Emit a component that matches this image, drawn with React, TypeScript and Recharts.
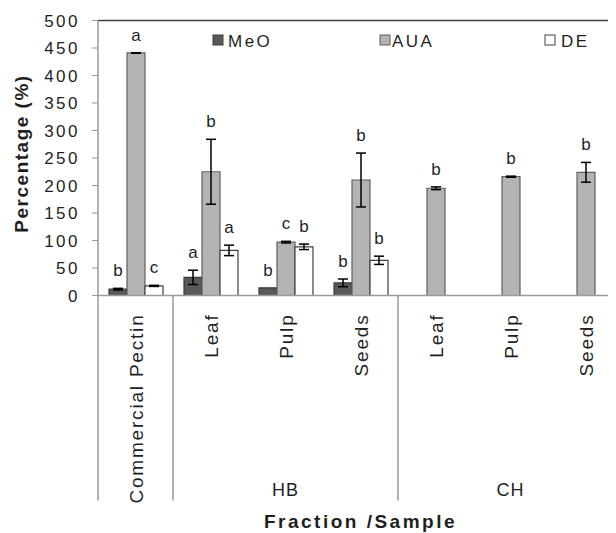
import React from "react";
import { BarChart, Bar, XAxis, YAxis, ErrorBar, LabelList, ReferenceLine } from "recharts";

const categories = ["Commercial Pectin", "Leaf", "Pulp", "Seeds", "Leaf", "Pulp", "Seeds"];
const groups = ["", "HB", "HB", "HB", "CH", "CH", "CH"];
const meo = [11.5, 33, 14, 23, null, null, null];
const meoErr = [1.5, 13, null, 7, null, null, null];
const aua = [441, 225, 97, 210, 195, 216, 224];
const auaErr = [0.5, 59, 1.5, 49, 2.5, 1, 18];
const de = [17.5, 82, 88.5, 64, null, null, null];
const deErr = [1, 9.5, 5, 7.5, null, null, null];
const meoLetters = ["b", "a", "b", "b", "", "", ""];
const auaLetters = ["a", "b", "c", "b", "b", "b", "b"];
const deLetters = ["c", "a", "b", "b", "", "", ""];
const yTicks = [0, 50, 100, 150, 200, 250, 300, 350, 400, 450, 500];

const data = categories.map((c, i) => ({
  id: String(i),
  name: c,
  meo: meo[i],
  meoErr: meoErr[i],
  aua: aua[i],
  auaErr: auaErr[i],
  de: de[i],
  deErr: deErr[i],
}));

const FONT = "'Liberation Sans', Arial, sans-serif";
const TEXT = "#1f1f1f";
const CHART_W = 650;
const CHART_H = 525;
const MARGIN = { top: 12.5, right: 35, bottom: 0, left: 0 };
const Y_W = 90;
const BAND = (CHART_W - MARGIN.right - MARGIN.left - Y_W) / categories.length;

const letterRenderer = (letters: string[], errs: (number | null)[]) => (props: any) => {
  const { x, y, width, height, value, index } = props;
  if (value == null || !letters[index]) return null;
  const err = errs[index] ?? 0;
  const errPx = value ? (err * Math.abs(height)) / value : 0;
  return (
    <text
      x={x + width / 2}
      y={y - errPx - 12}
      textAnchor="middle"
      fontSize={17}
      fontFamily={FONT}
      fill={TEXT}
    >
      {letters[index]}
    </text>
  );
};

const groupMiddle: Record<number, string> = {};
groups.forEach((g) => {
  if (!g) return;
  const members = groups.map((h, j) => (h === g ? j : -1)).filter((j) => j >= 0);
  groupMiddle[(members[0] + members[members.length - 1]) / 2] = g;
});
const boundaries = groups
  .map((g, i) => (i === 0 || g !== groups[i - 1] ? i : -1))
  .filter((i) => i >= 0);

const XTick = (props: any) => {
  const { x, y, payload } = props;
  const i = Number(payload.value);
  return (
    <g>
      <text
        transform={`translate(${x + 7}, ${y + 18}) rotate(-90)`}
        textAnchor="end"
        fontSize={19}
        letterSpacing={1.8}
        fontFamily={FONT}
        fill={TEXT}
      >
        {categories[i]}
      </text>
      {boundaries.includes(i) && (
        <line x1={x - BAND / 2} x2={x - BAND / 2} y1={y} y2={y + 205} stroke="#9a9a9a" strokeWidth={1.5} />
      )}
      {groupMiddle[i] && (
        <text x={x} y={y + 200} textAnchor="middle" fontSize={18} letterSpacing={1} fontFamily={FONT} fill={TEXT}>
          {groupMiddle[i]}
        </text>
      )}
    </g>
  );
};

const legendItems = [
  { label: "MeO", fill: "#595959", stroke: "#3a3a3a", sx: 205, tx: 220 },
  { label: "AUA", fill: "#b3b3b3", stroke: "#5f5f5f", sx: 372, tx: 384 },
  { label: "DE", fill: "#ffffff", stroke: "#404040", sx: 537, tx: 553 },
];

export default function App() {
  return (
    <div style={{ position: "relative", width: 608, height: CHART_H, overflow: "hidden" }}>
      <BarChart
        width={CHART_W}
        height={CHART_H}
        data={data}
        margin={MARGIN}
        barCategoryGap={11}
        barGap={0}
      >
        <XAxis
          dataKey="id"
          height={CHART_H - 287.5}
          tick={<XTick />}
          tickLine={false}
          tickSize={0}
          tickMargin={0}
          axisLine={{ stroke: "#9a9a9a", strokeWidth: 1.5 }}
          interval={0}
          label={{
            content: (p: any) => {
              const vb = p.viewBox;
              return (
                <text
                  x={vb.x + vb.width / 2}
                  y={520}
                  textAnchor="middle"
                  fontSize={19}
                  fontWeight="bold"
                  letterSpacing={2.5}
                  fontFamily={FONT}
                  fill={TEXT}
                >
                  Fraction /Sample
                </text>
              );
            },
          }}
        />
        <YAxis
          width={Y_W}
          domain={[0, 500]}
          ticks={yTicks}
          interval={0}
          tickSize={6}
          tickMargin={12}
          tickLine={{ stroke: "#9a9a9a" }}
          axisLine={{ stroke: "#9a9a9a", strokeWidth: 1.5 }}
          tick={{ fontSize: 17, fill: TEXT, fontFamily: FONT, letterSpacing: 2.5 }}
          label={{
            content: () => (
              <text
                transform={`translate(20, 145.5) rotate(-90)`}
                textAnchor="middle"
                fontSize={19}
                fontWeight="bold"
                letterSpacing={1.5}
                fontFamily={FONT}
                fill={TEXT}
              >
                Percentage (%)
              </text>
            ),
          }}
        />
        <ReferenceLine y={500} stroke="#404040" strokeWidth={1.5} />
        <Bar dataKey="meo" fill="#595959" stroke="#3a3a3a" strokeWidth={1.2} isAnimationActive={false}>
          <ErrorBar dataKey="meoErr" width={5} stroke="#000" strokeWidth={1.5} direction="y" />
          <LabelList dataKey="meo" content={letterRenderer(meoLetters, meoErr)} />
        </Bar>
        <Bar dataKey="aua" fill="#b3b3b3" stroke="#5f5f5f" strokeWidth={1.2} isAnimationActive={false}>
          <ErrorBar dataKey="auaErr" width={5} stroke="#000" strokeWidth={1.5} direction="y" />
          <LabelList dataKey="aua" content={letterRenderer(auaLetters, auaErr)} />
        </Bar>
        <Bar dataKey="de" fill="#ffffff" stroke="#404040" strokeWidth={1.2} isAnimationActive={false}>
          <ErrorBar dataKey="deErr" width={5} stroke="#000" strokeWidth={1.5} direction="y" />
          <LabelList dataKey="de" content={letterRenderer(deLetters, deErr)} />
        </Bar>
      </BarChart>
      <svg
        width={608}
        height={60}
        style={{ position: "absolute", left: 0, top: 0, pointerEvents: "none" }}
      >
        {legendItems.map((it) => (
          <g key={it.label}>
            <rect x={it.sx} y={27} width={10} height={10} fill={it.fill} stroke={it.stroke} strokeWidth={1} />
            <text x={it.tx} y={38.5} fontSize={17} letterSpacing={2.5} fontFamily={FONT} fill={TEXT}>
              {it.label}
            </text>
          </g>
        ))}
      </svg>
    </div>
  );
}
